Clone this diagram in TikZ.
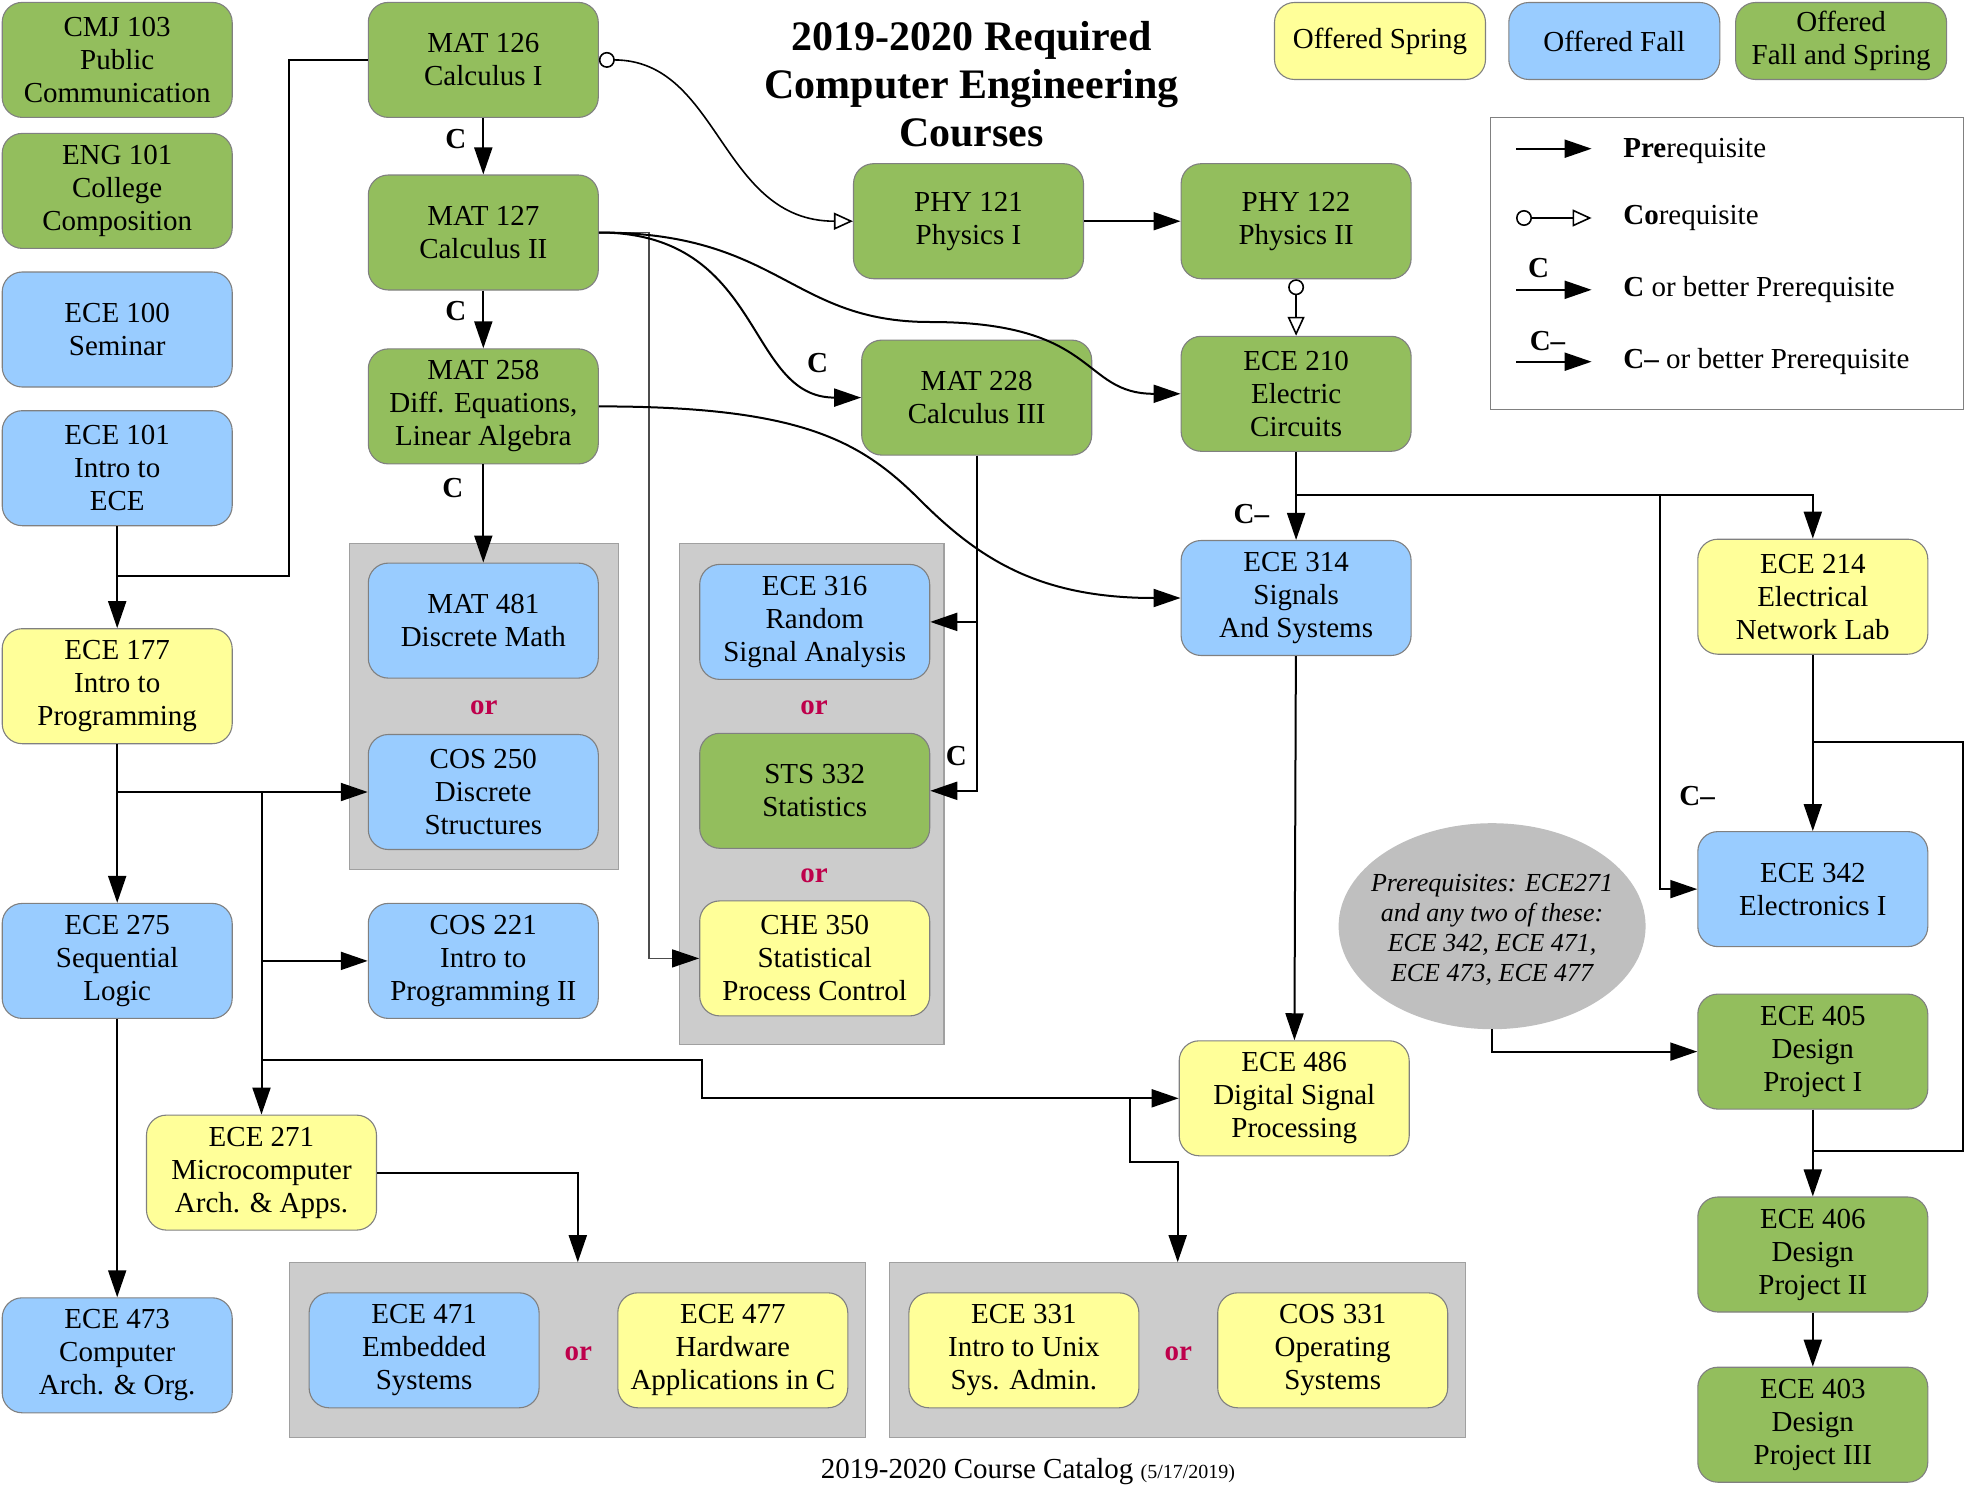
\documentclass[tikz,border=0pt]{standalone}
\usepackage{fontspec}
\setmainfont{Liberation Serif}
\usetikzlibrary{arrows.meta,shapes.geometric,calc}
\definecolor{cgreen}{RGB}{147,190,93}
\definecolor{cblue}{RGB}{153,204,255}
\definecolor{cyellow}{RGB}{255,255,153}
\definecolor{cgrp}{RGB}{204,204,204}
\definecolor{cgrpborder}{RGB}{160,160,160}
\definecolor{cell}{RGB}{191,191,191}
\definecolor{cborder}{RGB}{128,128,128}
\definecolor{cor}{RGB}{190,0,75}
\begin{document}
\begin{tikzpicture}[x=1pt,y=-1pt,
  course/.style={draw=cborder, line width=1.1pt, rounded corners=20pt, minimum width=230pt, minimum height=115pt, align=center, inner sep=0pt, font=\fontsize{29}{33}\selectfont},
  gr/.style={course, fill=cgreen},
  bl/.style={course, fill=cblue},
  ye/.style={course, fill=cyellow},
  legbox/.style={course, minimum width=211pt, minimum height=77pt},
  grp/.style={draw=cgrpborder, fill=cgrp, line width=1.1pt, inner sep=0pt},
  orlab/.style={font=\fontsize{29}{33}\selectfont\bfseries, text=cor, inner sep=0pt},
  clab/.style={font=\fontsize{29}{33}\selectfont\bfseries, inner sep=0pt},
  txt/.style={font=\fontsize{29}{33}\selectfont, inner sep=0pt},
  conn/.style={line width=2pt},
  thinconn/.style={line width=1.1pt, draw=black!70},
  pre/.style={conn, -{Triangle[length=27pt,width=18pt]}},
  thinpre/.style={thinconn, -{Triangle[length=27pt,width=18pt,color=black]}},
  co/.style={line width=1.6pt, {Circle[open,length=16pt,width=16pt]}-{Triangle[open,length=19pt,width=17pt]}},
]
\useasboundingbox (0,0) rectangle (1976,1485);

% groups
\node[grp, minimum width=269.7pt, minimum height=326.4pt] (g1) at (484,706.3) {};
\node[grp, minimum width=264.7pt, minimum height=501.6pt] (g2) at (811.6,793.9) {};
\node[grp, minimum width=576pt, minimum height=175.2pt] (g3) at (577.8,1350.3) {};
\node[grp, minimum width=576pt, minimum height=175.2pt] (g4) at (1177.7,1350.3) {};

% title
\node[align=center, font=\fontsize{42}{48}\selectfont\bfseries] (title) at (971.6,84) {2019-2020 Required\\Computer Engineering\\Courses};

% legend colour boxes
\node[legbox, fill=cyellow] (lspring) at (1380,41) {Offered Spring};
\node[legbox, fill=cblue] (lfall) at (1614.3,41) {Offered Fall};
\node[legbox, fill=cgreen] (lboth) at (1841.1,41) {Offered\\Fall and Spring};

% legend frame
\node[draw=cborder, line width=1.1pt, minimum width=472.6pt, minimum height=292.4pt] (legend) at (1727.1,263.4) {};
\coordinate (la1) at (1516,148.7); \coordinate (la2) at (1591.6,148.7);
\coordinate (lb1) at (1516,218); \coordinate (lb2) at (1591.6,218);
\coordinate (lc1) at (1516,289.8); \coordinate (lc2) at (1591.6,289.8);
\coordinate (ld1) at (1516,361.7); \coordinate (ld2) at (1591.6,361.7);
\draw[pre] (la1) -- (la2);
\draw[co] (lb1) -- (lb2);
\draw[pre] (lc1) -- (lc2);
\draw[pre] (ld1) -- (ld2);
\node[clab] (lclab) at (1538.7,268) {C};
\node[clab] (ldlab) at (1547.5,341) {C–};
\node[txt, anchor=west] (lta) at (1623.1,151) {\textbf{Pre}requisite};
\node[txt, anchor=west] (ltb) at (1623.1,218) {\textbf{Co}requisite};
\node[txt, anchor=west] (ltc) at (1623.1,289.5) {\textbf{C} or better Prerequisite};
\node[txt, anchor=west] (ltd) at (1623.1,361.5) {\textbf{C–} or better Prerequisite};

% courses
\node[gr] (cmj103) at (117.2,59.9) {CMJ 103\\Public\\Communication};
\node[gr] (eng101) at (117.2,190.9) {ENG 101\\College\\Composition};
\node[bl] (ece100) at (117.2,329.5) {ECE 100\\Seminar};
\node[bl] (ece101) at (117.2,468.2) {ECE 101\\Intro to\\ECE};
\node[ye] (ece177) at (117.2,686.2) {ECE 177\\Intro to\\Programming};
\node[bl] (ece275) at (117.2,960.9) {ECE 275\\Sequential\\Logic};
\node[bl] (ece473) at (117.2,1355.3) {ECE 473\\Computer\\Arch. \& Org.};
\node[gr] (mat126) at (483.3,59.9) {MAT 126\\Calculus I};
\node[gr] (mat127) at (483.3,232.5) {MAT 127\\Calculus II};
\node[gr] (mat258) at (483.3,406.4) {MAT 258\\Diff. Equations,\\Linear Algebra};
\node[bl] (mat481) at (483.3,620.6) {MAT 481\\Discrete Math};
\node[bl] (cos250) at (483.3,792) {COS 250\\Discrete\\Structures};
\node[bl] (cos221) at (483.3,960.9) {COS 221\\Intro to\\Programming II};
\node[ye] (ece271) at (261.5,1172.6) {ECE 271\\Microcomputer\\Arch. \& Apps.};
\node[bl] (ece316) at (814.7,621.9) {ECE 316\\Random\\Signal Analysis};
\node[gr] (sts332) at (814.7,790.8) {STS 332\\Statistics};
\node[ye] (che350) at (814.7,958.4) {CHE 350\\Statistical\\Process Control};
\node[gr] (phy121) at (968.5,221.2) {PHY 121\\Physics I};
\node[gr] (phy122) at (1296.1,221.2) {PHY 122\\Physics II};
\node[gr] (mat228) at (976.7,397.6) {MAT 228\\Calculus III};
\node[gr] (ece210) at (1296.1,393.8) {ECE 210\\Electric\\Circuits};
\node[bl] (ece314) at (1296.1,598) {ECE 314\\Signals\\And Systems};
\node[ye] (ece214) at (1812.8,596.7) {ECE 214\\Electrical\\Network Lab};
\node[bl] (ece342) at (1812.8,889.1) {ECE 342\\Electronics I};
\node[gr] (ece405) at (1812.8,1051.6) {ECE 405\\Design\\Project I};
\node[gr] (ece406) at (1812.8,1254.5) {ECE 406\\Design\\Project II};
\node[gr] (ece403) at (1812.8,1424.7) {ECE 403\\Design\\Project III};
\node[ye] (ece486) at (1294.2,1098.3) {ECE 486\\Digital Signal\\Processing};
\node[bl] (ece471) at (424.1,1350.3) {ECE 471\\Embedded\\Systems};
\node[ye] (ece477) at (732.8,1350.3) {ECE 477\\Hardware\\Applications in C};
\node[ye] (ece331) at (1023.9,1350.3) {ECE 331\\Intro to Unix\\Sys. Admin.};
\node[ye] (cos331) at (1332.7,1350.3) {COS 331\\Operating\\Systems};

\node[ellipse, fill=cell, minimum width=307pt, minimum height=206pt, inner sep=0pt] (ell) at (1492.1,926.2) {};
\node[align=center, inner sep=0pt, font=\fontsize{26}{30}\selectfont\itshape] (elltxt) at (1492.1,929.5) {Prerequisites: ECE271\\and any two of these:\\ECE 342, ECE 471,\\ECE 473, ECE 477};

% or labels
\node[orlab] (or1) at (483.9,708) {or};
\node[orlab] (or2) at (814.1,708) {or};
\node[orlab] (or3) at (814.1,875.6) {or};
\node[orlab] (or4) at (578.4,1353.5) {or};
\node[orlab] (or5) at (1178.3,1353.5) {or};

% footer
\node[txt] (foot) at (1028,1472) {2019-2020 Course Catalog {\fontsize{20}{22}\selectfont (5/17/2019)}};

% connectors: math chain
\draw[pre] (mat126) -- node[clab, pos=0.37, left=16pt] {C} (mat127);
\draw[pre] (mat127) -- node[clab, pos=0.36, left=16pt] {C} (mat258);
\draw[pre] (mat258) -- node[clab, pos=0.24, left=19pt] {C} (mat481);

% MAT 126 and ECE 101 to ECE 177
\coordinate (k126a) at (288.6,575.9);
\coordinate (k126b) at (117.2,575.9);
\draw[conn] (mat126.west) -| (k126a) -- (k126b);
\draw[pre] (ece101) -- (ece177);

% corequisites
\draw[co] (mat126.east) .. controls (720,60) and (720,221.2) .. (phy121.west);
\draw[co] (phy122.south) -- (ece210.north);
\draw[pre] (phy121) -- (phy122);

% MAT 127 outgoing
\coordinate (k127) at (649,958.4);
\draw[thinpre] (mat127.east) -| (k127) -- (che350.west);
\draw[pre] (mat127.east) .. controls (765,232.5) and (745,397.6) .. node[clab, pos=0.86, yshift=26pt, xshift=-2pt] {C} (mat228.west);
\draw[pre] (mat127.east) .. controls (780,232.5) and (790,322) .. (930,322) .. controls (1100,322) and (1080,393.8) .. (ece210.west);

% MAT 258 to ECE 314
\draw[pre] (mat258.east) .. controls (800,406.4) and (860,440) .. (920,500) .. controls (980,560) and (1040,598) .. (ece314.west);

% MAT 228 to ECE 316 / STS 332
\draw[pre] (mat228.south) |- node[clab, pos=0.448, left=9pt] {C} (sts332.east);
\draw[pre] (mat228.south) |- (ece316.east);

% ECE 210 outgoing
\coordinate (j210) at (1296.1,495.2);
\coordinate (j342) at (1659.7,495.2);
\draw[pre] (ece210) -- node[clab, pos=0.705, left=26pt] {C–} (ece314);
\draw[pre] (j210) -| (ece214.north);
\draw[pre] (j342) |- (ece342.west);

% ECE 214 outgoing
\draw[pre] (ece214) -- node[clab, pos=0.8, left=97pt] {C–} (ece342);
\coordinate (r214) at (1812.8,742.3);
\coordinate (r406) at (1963.4,1150.6);
\coordinate (r406b) at (1812.8,1150.6);
\draw[conn] (r214) -| (r406) -- (r406b);

% design projects
\draw[pre] (ell.south) |- (ece405.west);
\draw[pre] (ece405) -- (ece406);
\draw[pre] (ece406) -- (ece403);

% ECE 314 to ECE 486
\draw[pre] (ece314) -- (ece486);

% ECE 177 outgoing
\coordinate (b1) at (117.2,792);
\coordinate (b2) at (261.5,792);
\coordinate (b3) at (261.5,960.9);
\coordinate (b4) at (261.5,1059.8);
\coordinate (b4a) at (701.9,1059.8);
\coordinate (b5) at (1130.4,1098.3);
\coordinate (b5a) at (1177.7,1161.9);
\draw[pre] (ece177) -- (ece275);
\draw[pre] (b1) -- (cos250.west);
\draw[pre] (b2) -- (ece271.north);
\draw[pre] (b3) -- (cos221.west);
\draw[pre] (b4) -- (b4a) |- (ece486.west);
\draw[pre] (b5) |- (b5a) -- (g4.north);

% others
\draw[pre] (ece275) -- (ece473);
\draw[pre] (ece271.east) -| (g3.north);
\end{tikzpicture}
\end{document}
